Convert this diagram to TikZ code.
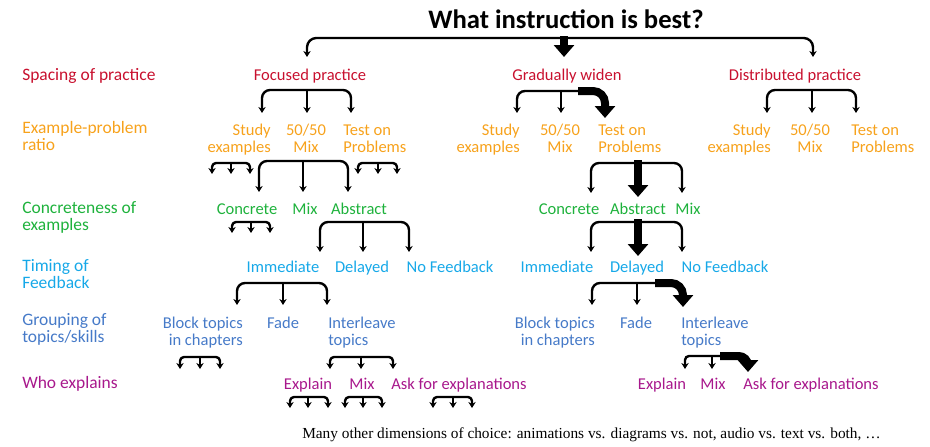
\documentclass[tikz,border=0pt]{standalone}
\usepackage{fontspec}
\setmainfont{Carlito}
\newfontfamily\capfont{Liberation Serif}
\usetikzlibrary{arrows.meta}
\definecolor{cRed}{RGB}{200,16,46}
\definecolor{cOrange}{RGB}{247,162,28}
\definecolor{cGreen}{RGB}{30,178,60}
\definecolor{cSky}{RGB}{22,168,232}
\definecolor{cSteel}{RGB}{70,122,200}
\definecolor{cMag}{RGB}{168,24,140}
% name, x-left, x-mid, x-right, y-bar, y-tip, corner radius
\newcommand\mybrk[7]{%
  \coordinate (#1-l) at (#2,#6);
  \coordinate (#1-m) at (#3,#5);
  \coordinate (#1-mt) at (#3,#6);
  \coordinate (#1-r) at (#4,#6);
  \draw[brline, rounded corners=#7] (#1-l) |- (#1-m) -| (#1-r);
  \draw[brstem] (#1-m) -- (#1-mt);
}
\begin{document}
\begin{tikzpicture}[x=0.75pt,y=-0.75pt,
  lab/.style={font=\fontsize{13.1}{12.75}\selectfont, inner sep=0pt, align=left, anchor=base west},
  opt/.style={font=\fontsize{12.4}{12.75}\selectfont, inner sep=0pt},
  optr/.style={opt, align=right, anchor=base east},
  optc/.style={opt, align=center, anchor=base},
  optl/.style={opt, align=left, anchor=base west},
  brline/.style={line width=1.8pt, line join=round,
     {Stealth[length=4.5pt,width=5.5pt]}-{Stealth[length=4.5pt,width=5.5pt]}},
  brstem/.style={line width=1.8pt, -{Stealth[length=4.5pt,width=5.5pt]}},
  thinbar/.style={line width=1.8pt, rounded corners=6pt, {Stealth[length=4.5pt,width=5.5pt]}-},
  bigarrow/.style={line width=6pt, rounded corners=9pt, -{Triangle[length=9pt,width=15pt]}}
]
\useasboundingbox (0,0) rectangle (930,446);

% title
\node[font=\bfseries\fontsize{20}{20}\selectfont, inner sep=0pt, anchor=base] (title) at (566,28) {What instruction is best?};

% left labels (base = last line)
\node[lab, text=cRed] (lsp) at (22,80) {Spacing of practice};
\node[lab, text=cOrange] (lex) at (22,150) {Example-problem\\ratio};
\node[lab, text=cGreen] (lco) at (22,230) {Concreteness of\\examples};
\node[lab, text=cSky] (lti) at (22,288) {Timing of\\Feedback};
\node[lab, text=cSteel] (lgr) at (22,342) {Grouping of\\topics/skills};
\node[lab, text=cMag] (lwh) at (22,388) {Who explains};

% row 1
\node[optc, text=cRed] (f1) at (310,80) {Focused practice};
\node[optc, text=cRed] (g1) at (567,80) {Gradually widen};
\node[optc, text=cRed] (d1) at (795,80) {Distributed practice};

% row 2
\node[optr, text=cOrange] (f2s) at (271,152) {Study\\examples};
\node[optc, text=cOrange] (f2m) at (306,152) {50/50\\Mix};
\node[optl, text=cOrange] (f2t) at (343,152) {Test on\\Problems};
\node[optr, text=cOrange] (g2s) at (520,152) {Study\\examples};
\node[optc, text=cOrange] (g2m) at (560,152) {50/50\\Mix};
\node[optl, text=cOrange] (g2t) at (598,152) {Test on\\Problems};
\node[optr, text=cOrange] (d2s) at (771,152) {Study\\examples};
\node[optc, text=cOrange] (d2m) at (810,152) {50/50\\Mix};
\node[optl, text=cOrange] (d2t) at (851,152) {Test on\\Problems};

% row 3
\node[optc, text=cGreen] (f3c) at (247,214) {Concrete};
\node[optc, text=cGreen] (f3m) at (305,214) {Mix};
\node[optc, text=cGreen] (f3a) at (359,214) {Abstract};
\node[optc, text=cGreen] (g3c) at (569,214) {Concrete};
\node[optc, text=cGreen] (g3a) at (638,214) {Abstract};
\node[optc, text=cGreen] (g3m) at (688,214) {Mix};

% row 4
\node[optc, text=cSky] (f4i) at (283,272) {Immediate};
\node[optc, text=cSky] (f4d) at (362,272) {Delayed};
\node[optc, text=cSky] (f4n) at (450,272) {No Feedback};
\node[optc, text=cSky] (g4i) at (557,272) {Immediate};
\node[optc, text=cSky] (g4d) at (637,272) {Delayed};
\node[optc, text=cSky] (g4n) at (725,272) {No Feedback};

% row 5
\node[optr, text=cSteel] (f5b) at (243,345) {Block topics\\in chapters};
\node[optc, text=cSteel] (f5f) at (283,328) {Fade};
\node[optl, text=cSteel] (f5i) at (328,345) {Interleave\\topics};
\node[optr, text=cSteel] (g5b) at (595,345) {Block topics\\in chapters};
\node[optc, text=cSteel] (g5f) at (636,328) {Fade};
\node[optl, text=cSteel] (g5i) at (681,345) {Interleave\\topics};

% row 6
\node[optc, text=cMag] (f6e) at (308,389) {Explain};
\node[optc, text=cMag] (f6m) at (362,389) {Mix};
\node[optc, text=cMag] (f6a) at (459,389) {Ask for explanations};
\node[optc, text=cMag] (g6e) at (662,389) {Explain};
\node[optc, text=cMag] (g6m) at (713,389) {Mix};
\node[optc, text=cMag] (g6a) at (811,389) {Ask for explanations};

% caption
\node[font=\capfont\fontsize{11.5}{11.5}\selectfont, inner sep=0pt, anchor=base west] (cap) at (302,438)
  {Many other dimensions of choice: animations vs. diagrams vs. not, audio vs. text vs. both, \dots};

% ---- connectors ----
% top
\coordinate (t-l) at (307,57);
\coordinate (t-m) at (564,38);
\coordinate (t-ms) at (564,36);
\coordinate (t-mt) at (564,57);
\coordinate (t-r) at (813,57);
\draw[brline, rounded corners=7pt] (t-l) |- (t-m) -| (t-r);
\draw[bigarrow] (t-ms) -- (t-mt);

% row 1 -> 2
\mybrk{F1}{262}{307}{351}{90}{113}{6pt}
\mybrk{D1}{767}{812}{856}{90}{113}{6pt}
\coordinate (G1-l) at (517,113);
\coordinate (G1-k) at (578,91);
\coordinate (G1-m) at (561,91);
\coordinate (G1-mt) at (561,113);
\coordinate (G1-r) at (605,118);
\draw[thinbar] (G1-l) |- (G1-k);
\draw[brstem] (G1-m) -- (G1-mt);
\draw[bigarrow] (G1-k) -| (G1-r);

% row 2 -> 3
\mybrk{F2a}{212}{231}{250}{163}{174}{3pt}
\mybrk{F2b}{259}{303}{348}{161}{192}{6pt}
\mybrk{F2c}{358}{378}{397}{163}{174}{3pt}
\coordinate (G2-l) at (591,193);
\coordinate (G2-m) at (638,163);
\coordinate (G2-ms) at (638,160);
\coordinate (G2-r) at (682,193);
\coordinate (G2-mt) at (638,197);
\draw[brline, rounded corners=6pt] (G2-l) |- (G2-m) -| (G2-r);
\draw[bigarrow] (G2-ms) -- (G2-mt);

% row 3 -> 4
\mybrk{F3a}{232}{251}{270}{222}{233}{3pt}
\mybrk{F3b}{320}{363}{409}{222}{252}{6pt}
\coordinate (G3-l) at (591,252);
\coordinate (G3-m) at (638,222);
\coordinate (G3-ms) at (638,219);
\coordinate (G3-r) at (682,252);
\coordinate (G3-mt) at (638,256);
\draw[brline, rounded corners=6pt] (G3-l) |- (G3-m) -| (G3-r);
\draw[bigarrow] (G3-ms) -- (G3-mt);

% row 4 -> 5
\mybrk{F4}{237}{283}{327}{283}{305}{6pt}
\coordinate (G4-l) at (592,305);
\coordinate (G4-k) at (655,283);
\coordinate (G4-m) at (637,283);
\coordinate (G4-mt) at (637,305);
\coordinate (G4-r) at (683,307);
\draw[thinbar] (G4-l) |- (G4-k);
\draw[brstem] (G4-m) -- (G4-mt);
\draw[bigarrow] (G4-k) -| (G4-r);

% row 5 -> 6
\mybrk{F5a}{180}{200}{220}{357}{369}{3pt}
\mybrk{F5b}{330}{361}{393}{357}{369}{3pt}
\coordinate (G5-l) at (685,369);
\coordinate (G5-k) at (720,356);
\coordinate (G5-m) at (712,356);
\coordinate (G5-mt) at (712,369);
\coordinate (G5-r) at (748,372);
\draw[thinbar, rounded corners=3pt] (G5-l) |- (G5-k);
\draw[brstem] (G5-m) -- (G5-mt);
\draw[bigarrow, rounded corners=7pt] (G5-k) -| (G5-r);

% row 6 stubs
\mybrk{F6a}{290}{308}{328}{397}{408}{3pt}
\mybrk{F6b}{345}{363}{382}{397}{408}{3pt}
\mybrk{F6c}{433}{453}{472}{397}{408}{3pt}
\end{tikzpicture}
\end{document}
